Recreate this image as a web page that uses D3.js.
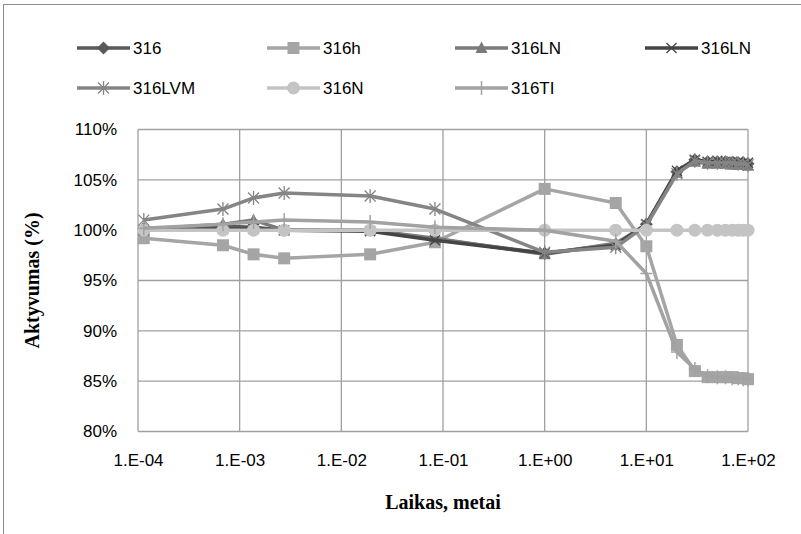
<!DOCTYPE html>
<html><head><meta charset="utf-8">
<script src="https://cdn.jsdelivr.net/npm/d3@7"></script>
<style>html,body{margin:0;padding:0;background:#fff;}svg{display:block;}</style>
</head><body>
<script>
// time in years
const times = [1.14e-4, 6.85e-4, 1.37e-3, 2.74e-3, 1.92e-2, 8.33e-2, 1, 5, 10, 20, 30, 40, 50, 60, 70, 80, 90, 100];
const seriesNames = ["316", "316h", "316LN", "316LN", "316LVM", "316N", "316TI"];
const v316    = [100.2, 100.4, 100.3, 100.0, 100.0, 99.1, 97.7, 98.6, 100.6, 105.8, 107.0, 106.8, 106.8, 106.8, 106.7, 106.7, 106.7, 106.6];
const v316h   = [99.2, 98.5, 97.6, 97.2, 97.6, 98.8, 104.1, 102.7, 98.4, 88.6, 86.0, 85.4, 85.4, 85.4, 85.4, 85.3, 85.3, 85.2];
const v316LN  = [100.1, 100.6, 101.0, 100.0, 100.0, 99.2, 97.6, 98.7, 100.5, 105.7, 106.8, 106.6, 106.6, 106.6, 106.5, 106.5, 106.5, 106.4];
const v316LNx = [100.0, 100.1, 100.1, 100.0, 99.9, 99.0, 97.7, 98.5, 100.6, 105.9, 107.0, 106.8, 106.9, 106.8, 106.8, 106.8, 106.7, 106.7];
const v316LVM = [101.0, 102.1, 103.2, 103.7, 103.4, 102.1, 97.8, 98.3, 100.5, 105.6, 106.9, 106.7, 106.7, 106.7, 106.7, 106.6, 106.6, 106.5];
const v316N   = [100, 100, 100, 100, 100, 100, 100, 100, 100, 100, 100, 100, 100, 100, 100, 100, 100, 100];
const v316TI  = [100.2, 100.6, 100.8, 101.0, 100.8, 100.3, 100.0, 98.9, 95.7, 87.9, 86.2, 85.5, 85.4, 85.4, 85.3, 85.3, 85.2, 85.2];
const xTickValues = [1e-4, 1e-3, 1e-2, 1e-1, 1, 10, 100];
const xTickLabels = ["1.E-04", "1.E-03", "1.E-02", "1.E-01", "1.E+00", "1.E+01", "1.E+02"];
const yTickValues = [80, 85, 90, 95, 100, 105, 110];
const xTitle = "Laikas, metai";
const yTitle = "Aktyvumas (%)";

const W = 801, H = 534;
const plot = {left: 138, right: 748, top: 129.5, bottom: 431.5};
const tickFont = "'Liberation Sans', Arial, sans-serif";
const titleFont = "'Liberation Serif', 'Times New Roman', serif";

const styles = [
  {color: "#595959", marker: "diamond"},
  {color: "#a5a5a5", marker: "square"},
  {color: "#7a7a7a", marker: "triangle"},
  {color: "#454545", marker: "x"},
  {color: "#858585", marker: "asterisk"},
  {color: "#c4c4c4", marker: "circle"},
  {color: "#a2a2a2", marker: "plus"}
];
const values = [v316, v316h, v316LN, v316LNx, v316LVM, v316N, v316TI];

const svg = d3.select("body").append("svg").attr("width", W).attr("height", H);
svg.append("rect").attr("x", 0).attr("y", 0).attr("width", W).attr("height", H).attr("fill", "#fff");
svg.append("rect").attr("x", 3.5).attr("y", 4.5).attr("width", W + 10).attr("height", H + 10)
  .attr("fill", "none").attr("stroke", "#8c8c8c").attr("stroke-width", 1);

const x = d3.scaleLog().domain([1e-4, 100]).range([plot.left, plot.right]);
const y = d3.scaleLinear().domain([80, 110]).range([plot.bottom, plot.top]);

// gridlines
const grid = svg.append("g");
grid.selectAll("line.v").data(xTickValues).join("line")
  .attr("x1", d => x(d)).attr("x2", d => x(d)).attr("y1", plot.top).attr("y2", plot.bottom)
  .attr("stroke", "#a0a0a0").attr("stroke-width", 1.3);
grid.selectAll("line.h").data(yTickValues).join("line")
  .attr("x1", plot.left).attr("x2", plot.right).attr("y1", d => y(d)).attr("y2", d => y(d))
  .attr("stroke", "#a0a0a0").attr("stroke-width", 1.3);

// axes
const xAxis = d3.axisBottom(x).tickValues(xTickValues).tickFormat((d, i) => xTickLabels[i]).tickSize(0).tickPadding(22);
const gx = svg.append("g").attr("transform", `translate(0,${plot.bottom})`).call(xAxis);
gx.select(".domain").remove();
gx.selectAll("text").attr("font-family", tickFont).attr("font-size", 17).attr("fill", "#000");

const yAxis = d3.axisLeft(y).tickValues(yTickValues).tickFormat(d => d + "%").tickSize(0).tickPadding(21);
const gy = svg.append("g").attr("transform", `translate(${plot.left},0)`).call(yAxis);
gy.select(".domain").remove();
gy.selectAll("text").attr("font-family", tickFont).attr("font-size", 17).attr("fill", "#000");

// marker drawing
function drawMarker(g, type, color, cx, cy) {
  const s = 6;
  if (type === "square") {
    g.append("rect").attr("x", cx - s).attr("y", cy - s).attr("width", 2 * s).attr("height", 2 * s).attr("fill", color);
  } else if (type === "circle") {
    g.append("circle").attr("cx", cx).attr("cy", cy).attr("r", 6.5).attr("fill", color);
  } else if (type === "diamond") {
    g.append("path").attr("d", `M${cx},${cy - 6.5}L${cx + 6.5},${cy}L${cx},${cy + 6.5}L${cx - 6.5},${cy}Z`).attr("fill", color);
  } else if (type === "triangle") {
    g.append("path").attr("d", `M${cx},${cy - 6.5}L${cx + 6},${cy + 5}L${cx - 6},${cy + 5}Z`).attr("fill", color);
  } else if (type === "x") {
    g.append("path").attr("d", `M${cx - 5},${cy - 5}L${cx + 5},${cy + 5}M${cx - 5},${cy + 5}L${cx + 5},${cy - 5}`)
      .attr("stroke", color).attr("stroke-width", 1.3).attr("fill", "none");
  } else if (type === "asterisk") {
    g.append("path").attr("d", `M${cx - 5.5},${cy - 5.5}L${cx + 5.5},${cy + 5.5}M${cx - 5.5},${cy + 5.5}L${cx + 5.5},${cy - 5.5}M${cx},${cy - 7}L${cx},${cy + 7}`)
      .attr("stroke", color).attr("stroke-width", 1.3).attr("fill", "none");
  } else if (type === "plus") {
    g.append("path").attr("d", `M${cx - 6},${cy}L${cx + 6},${cy}M${cx},${cy - 7}L${cx},${cy + 7}`)
      .attr("stroke", color).attr("stroke-width", 1.5).attr("fill", "none");
  }
}

const line = d3.line().x(d => x(d[0])).y(d => y(d[1]));
values.forEach((vals, i) => {
  const g = svg.append("g");
  const pts = times.map((t, j) => [t, vals[j]]);
  g.append("path").attr("d", line(pts)).attr("fill", "none")
    .attr("stroke", styles[i].color).attr("stroke-width", 3.5).attr("stroke-linejoin", "round");
  pts.forEach(p => drawMarker(g, styles[i].marker, styles[i].color, x(p[0]), y(p[1])));
});

// legend
const legendPos = [[77, 48], [267, 48], [455, 48], [645, 48], [77, 88], [267, 88], [455, 88]];
seriesNames.forEach((name, i) => {
  const [lx, ly] = legendPos[i];
  const g = svg.append("g");
  g.append("line").attr("x1", lx).attr("x2", lx + 53).attr("y1", ly).attr("y2", ly)
    .attr("stroke", styles[i].color).attr("stroke-width", 3.5);
  drawMarker(g, styles[i].marker, styles[i].color, lx + 26.5, ly);
  g.append("text").attr("x", lx + 56).attr("y", ly + 6).attr("font-family", tickFont).attr("font-size", 17)
    .attr("fill", "#000").text(name);
});

// axis titles
svg.append("text").attr("x", (plot.left + plot.right) / 2).attr("y", 509).attr("text-anchor", "middle")
  .attr("font-family", titleFont).attr("font-weight", "bold").attr("font-size", 20).text(xTitle);
svg.append("text").attr("transform", `translate(39,${(plot.top + plot.bottom) / 2}) rotate(-90)`)
  .attr("text-anchor", "middle").attr("font-family", titleFont).attr("font-weight", "bold").attr("font-size", 20).text(yTitle);
</script>
</body></html>
